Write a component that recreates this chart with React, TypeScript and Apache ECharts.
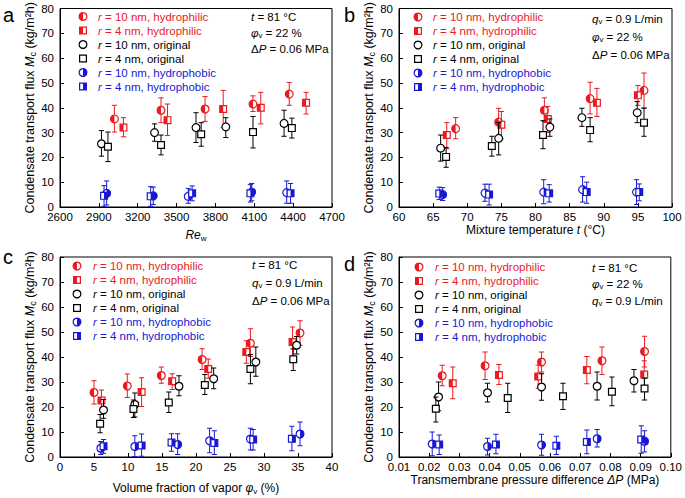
import React, { useEffect, useRef } from 'react';
import * as echarts from 'echarts';

const RED = '#ea1a1f';
const BLUE = '#1717d4';
const BLACK = '#000000';
const FONT = '"Liberation Sans", Arial, sans-serif';

// Each point: [x, y, lowerErr, upperErr]
// Panel a — Re_w
const RE_OFFSET = 2600;
const aPhil10 = [[3020, 35.5, 30.2, 41], [3380, 39, 34, 44], [3720, 39.5, 34.5, 44.5], [4090, 41.5, 38.5, 44.8], [4370, 45.5, 41, 50.2]];
const aPhil4 = [[3090, 32, 28.3, 36], [3430, 35, 28.8, 41.5], [3860, 39.5, 32, 47], [4150, 40, 33.5, 46.2], [4500, 42, 37.5, 46.2]];
const aOrig10 = [[2920, 25.5, 20.5, 30.8], [3330, 30, 26.5, 33.5], [3650, 32, 26, 38], [3880, 32.3, 28, 36], [4330, 33.7, 28.5, 39]];
const aOrig4 = [[2970, 24.3, 18.3, 30.2], [3380, 25, 21, 29], [3690, 29.3, 24.5, 34], [4090, 30.2, 23.8, 36.5], [4390, 31.8, 27.8, 35.8]];
const aPhob10 = [[2960, 5.5, 0.8, 10.5], [3320, 4.5, 1, 8], [3590, 4.3, 1.5, 7.5], [4080, 6, 2.5, 9.5], [4350, 5.8, 1.5, 10.5]];
const aPhob4 = [[2940, 4.5, 0.3, 8.6], [3300, 4.3, 0.3, 8.2], [3620, 5.5, 2.5, 8.5], [4070, 5.5, 2, 9], [4380, 5.5, 1.5, 9.5]];

// Panel b — mixture temperature
const bPhil10 = [[68.3, 31.6, 27.5, 36], [74.6, 34.2, 28, 39.8], [81.3, 39, 34.5, 44], [88, 43.7, 37.5, 50.3], [95.9, 47, 40, 54]];
const bPhil4 = [[67, 29, 23.5, 34], [75, 33.2, 27.5, 38.5], [81.8, 35.5, 30, 40.5], [89, 42, 36.5, 47.8], [95, 45, 41, 49]];
const bOrig10 = [[66.1, 23.7, 18.5, 29], [74.6, 27.7, 21, 34], [82.1, 32.2, 28.5, 35.5], [86.8, 36, 32.5, 39.8], [94.9, 38, 34, 42.5]];
const bOrig4 = [[66.9, 20.2, 16, 24], [73.6, 24.6, 20.5, 28.5], [81.1, 29, 23.5, 34.8], [88, 31, 26.3, 36], [95.9, 34, 28.5, 39.8]];
const bPhob10 = [[66.4, 5, 2.6, 7.8], [72.6, 5.6, 2.3, 9.2], [81.2, 6, 1.3, 11], [86.9, 7, 2, 12.2], [94.8, 6, 1, 11]];
const bPhob4 = [[65.9, 5.4, 3, 8], [73.2, 5, 0.8, 9.2], [82, 5.5, 2, 9], [87.5, 6, 1.5, 10], [95.2, 6, 2.5, 9.3]];

// Panel c — volume fraction of vapor
const cPhil10 = [[5, 25.8, 21.2, 30.5], [9.9, 28.4, 23.8, 33.2], [14.9, 32.6, 29.5, 36], [20.9, 39, 35, 43.3], [28, 45.5, 40.2, 51.3], [35.3, 49.6, 44.7, 54.5]];
const cPhil4 = [[6.1, 22.6, 18.5, 26.8], [12, 26, 20.2, 31.7], [16.5, 30.3, 27, 33.3], [21.8, 35.2, 31.5, 39.2], [27.4, 42, 37.5, 46.5], [34.2, 46, 40, 52]];
const cOrig10 = [[6.4, 18.8, 15.5, 23], [11, 21, 16, 25.6], [17.5, 28.3, 24.5, 32.5], [22.6, 31.3, 27.3, 35.6], [28.8, 38, 32.3, 44], [34.8, 44.7, 41.2, 48.2]];
const cOrig4 = [[5.9, 13.3, 9.7, 17], [10.8, 19.2, 15.8, 22.8], [16, 21.8, 17.8, 26], [21.3, 28.8, 25, 33], [28, 35.2, 29.3, 41], [34.3, 39.1, 34.6, 43.2]];
const cPhob10 = [[6, 3.5, 1, 6.2], [11, 4.2, 0.2, 8.5], [17.3, 5, 1, 9.3], [22, 6.5, 1.7, 11.5], [28, 7.2, 2.8, 11.5], [35.3, 9.2, 4.5, 14]];
const cPhob4 = [[6.4, 4.3, 1.5, 7], [12, 4.6, 0.3, 9.2], [16.4, 5.8, 2.3, 9.3], [22.7, 5.6, 1, 10.5], [28.4, 7, 2.8, 11], [34.1, 7.3, 2.5, 12.3]];

// Panel d — transmembrane pressure difference
const dPhil10 = [[0.0243, 32.5, 28.5, 36.7], [0.0385, 36.5, 31, 42], [0.0572, 38, 34, 42], [0.0772, 38.5, 33, 44], [0.0913, 42.2, 36, 48.3]];
const dPhil4 = [[0.0278, 29.5, 23.3, 36], [0.0431, 32.8, 29, 37], [0.0561, 32.2, 27.5, 36.8], [0.0722, 34.8, 29.3, 40.2], [0.0912, 33, 27.5, 38.5]];
const dOrig10 = [[0.0231, 24, 18.5, 30], [0.0393, 25.7, 22, 29.5], [0.0572, 28, 22.7, 33.3], [0.0756, 28.3, 22.8, 34], [0.0878, 30.5, 26, 35]];
const dOrig4 = [[0.0222, 19.3, 14, 24], [0.046, 23.6, 17.8, 29.5], [0.0643, 24.3, 19, 29.5], [0.0805, 26.1, 20.5, 32], [0.0913, 27.4, 22.8, 31.5]];
const dPhob10 = [[0.021, 5.2, 0.5, 10], [0.0393, 4.2, 0.8, 7.5], [0.0572, 4.8, 0.7, 9.1], [0.0756, 7.3, 4, 11], [0.0913, 6.3, 2, 10.5]];
const dPhob4 = [[0.0233, 5, 1, 8.8], [0.0421, 5, 1.3, 9.1], [0.0621, 4.5, 1, 8.3], [0.0722, 6, 1.3, 10.8], [0.0902, 7, 1.5, 12.5]];

const LEGEND_LABELS = ['10 nm, hydrophilic', '4 nm, hydrophilic', '10 nm, original', '4 nm, original', '10 nm, hydrophobic', '4 nm, hydrophobic'];
const KINDS = ['cL', 'sL', 'cO', 'sO', 'cR', 'sR'];
const COLORS = [RED, RED, BLACK, BLACK, BLUE, BLUE];

const Y_TICKS = { min: 0, max: 80, interval: 10 };

const R = 3.9;
const H = 3.4;

function markerEls(kind: string, cx: number, cy: number, color: string): any[] {
  const out: any[] = [];
  if (kind[0] === 'c') {
    out.push({ type: 'circle', shape: { cx, cy, r: R }, style: { fill: '#fff' } });
    if (kind[1] === 'L') out.push({ type: 'sector', shape: { cx, cy, r0: 0, r: R, startAngle: Math.PI / 2, endAngle: Math.PI * 1.5, clockwise: true }, style: { fill: color } });
    if (kind[1] === 'R') out.push({ type: 'sector', shape: { cx, cy, r0: 0, r: R, startAngle: -Math.PI / 2, endAngle: Math.PI / 2, clockwise: true }, style: { fill: color } });
    out.push({ type: 'circle', shape: { cx, cy, r: R }, style: { fill: 'none', stroke: color, lineWidth: 1.2 } });
  } else {
    out.push({ type: 'rect', shape: { x: cx - H, y: cy - H, width: 2 * H, height: 2 * H }, style: { fill: '#fff' } });
    if (kind[1] === 'L') out.push({ type: 'rect', shape: { x: cx - H, y: cy - H, width: H, height: 2 * H }, style: { fill: color } });
    if (kind[1] === 'R') out.push({ type: 'rect', shape: { x: cx, y: cy - H, width: H, height: 2 * H }, style: { fill: color } });
    out.push({ type: 'rect', shape: { x: cx - H, y: cy - H, width: 2 * H, height: 2 * H }, style: { fill: 'none', stroke: color, lineWidth: 1.2 } });
  }
  return out;
}

const makeRender = (kind: string, color: string) => (params: any, api: any) => {
  const x = api.value(0), y = api.value(1), lo = api.value(2), hi = api.value(3);
  const p = api.coord([x, y]);
  const pl = api.coord([x, lo]);
  const ph = api.coord([x, hi]);
  const cap = 2.6;
  const ls = { stroke: color, lineWidth: 1 };
  return {
    type: 'group',
    children: [
      { type: 'line', shape: { x1: p[0], y1: ph[1], x2: p[0], y2: pl[1] }, style: ls },
      { type: 'line', shape: { x1: p[0] - cap, y1: ph[1], x2: p[0] + cap, y2: ph[1] }, style: ls },
      { type: 'line', shape: { x1: p[0] - cap, y1: pl[1], x2: p[0] + cap, y2: pl[1] }, style: ls },
      ...markerEls(kind, p[0], p[1], color),
    ],
  };
};

const nameRich = (size: number) => ({
  n: { fontSize: size, fontFamily: FONT, color: '#000' },
  i: { fontSize: size, fontFamily: FONT, fontStyle: 'italic', color: '#000' },
  s: { fontSize: Math.round(size * 0.68), fontFamily: FONT, color: '#000', padding: [6, 0, 0, 0] },
});

const textEl = (x: number, y: number, text: string, color: string, size: number, align = 'left') => ({
  type: 'text',
  x,
  y,
  style: {
    text,
    fill: color,
    fontSize: size,
    fontFamily: FONT,
    align,
    verticalAlign: 'middle',
    textAlign: align,
    textVerticalAlign: 'middle',
    rich: {
      n: { fontSize: size, fontFamily: FONT, fill: color, color },
      i: { fontSize: size, fontFamily: FONT, fontStyle: 'italic', fill: color, color },
      s: { fontSize: size * 0.68, fontFamily: FONT, fill: color, color, padding: [5, 0, 0, 0] },
    },
  },
});

function legendEls(mx: number, tx: number, y0: number, step: number): any[] {
  const els: any[] = [];
  for (let k = 0; k < 6; k++) {
    const y = y0 + k * step;
    els.push(...markerEls(KINDS[k], mx, y, COLORS[k]));
    els.push(textEl(tx, y, `{i|r}{n| = ${LEGEND_LABELS[k]}}`, COLORS[k], 11.5));
  }
  return els;
}

export default function App() {
  const ref = useRef<HTMLDivElement>(null);
  useEffect(() => {
    document.body.style.margin = '0';
    const chart = echarts.init(ref.current!, null, { renderer: 'svg' });

    const grids = [
      { left: 60, top: 7, width: 272, height: 200 },
      { left: 399, top: 7, width: 273, height: 200 },
      { left: 60, top: 257, width: 272, height: 200 },
      { left: 399, top: 257, width: 273, height: 200 },
    ].map((g) => ({ ...g, show: true, borderColor: '#000', borderWidth: 1, backgroundColor: 'transparent' }));

    const axisCommon = {
      type: 'value',
      axisLine: { show: true, lineStyle: { color: '#000', width: 1 } },
      axisTick: { show: true, inside: true, length: 4, lineStyle: { color: '#000' } },
      splitLine: { show: false },
      axisLabel: { color: '#000', fontSize: 11.5, fontFamily: FONT, margin: 4 },
      nameLocation: 'middle',
      nameTextStyle: { fontSize: 12, fontFamily: FONT, color: '#000', rich: nameRich(12) },
    };

    const xAxes = [
      { ...axisCommon, gridIndex: 0, min: 0, max: 2100, interval: 300, axisLabel: { ...axisCommon.axisLabel, formatter: (v: number) => String(v + RE_OFFSET) }, name: '{i|Re}{s|w}', nameGap: 21 },
      { ...axisCommon, gridIndex: 1, min: 60, max: 100, interval: 5, name: '{n|Mixture temperature }{i|t}{n| (°C)}', nameGap: 15 },
      { ...axisCommon, gridIndex: 2, min: 0, max: 40, interval: 5, name: '{n|Volume fraction of vapor }{i|φ}{s|v}{n| (%)}', nameGap: 24 },
      { ...axisCommon, gridIndex: 3, min: 0.01, max: 0.1, interval: 0.01, axisLabel: { ...axisCommon.axisLabel, formatter: (v: number) => v.toFixed(2) }, name: '{n|Transmembrane pressure difference }{i|ΔP}{n| (MPa)}', nameGap: 16 },
    ];

    const yName = '{n|Condensate transport flux }{i|M}{s|c}{n| (kg/m²h)}';
    const yAxes = [0, 1, 2, 3].map((i) => ({
      ...axisCommon,
      gridIndex: i,
      ...Y_TICKS,
      axisLabel: { ...axisCommon.axisLabel, margin: 6 },
      name: yName,
      nameGap: 22,
      nameTextStyle: { fontSize: 12.5, fontFamily: FONT, color: '#000', rich: nameRich(12.5) },
    }));

    const panelData = [
      [aPhil10, aPhil4, aOrig10, aOrig4, aPhob10, aPhob4].map((arr) => arr.map((d) => [d[0] - RE_OFFSET, d[1], d[2], d[3]])),
      [bPhil10, bPhil4, bOrig10, bOrig4, bPhob10, bPhob4],
      [cPhil10, cPhil4, cOrig10, cOrig4, cPhob10, cPhob4],
      [dPhil10, dPhil4, dOrig10, dOrig4, dPhob10, dPhob4],
    ];

    const series: any[] = [];
    panelData.forEach((groups, pi) => {
      groups.forEach((data, gi) => {
        series.push({
          type: 'custom',
          xAxisIndex: pi,
          yAxisIndex: pi,
          data,
          encode: { x: 0, y: 1 },
          renderItem: makeRender(KINDS[gi], COLORS[gi]),
          z: 2 + gi,
        });
      });
    });

    const graphics: any[] = [
      textEl(3, 15, 'a', '#000', 20),
      textEl(344, 15, 'b', '#000', 20),
      textEl(3, 257, 'c', '#000', 20),
      textEl(344, 264, 'd', '#000', 20),
      // annotations
      textEl(251, 17, '{i|t}{n| = 81 °C}', '#000', 11.5),
      textEl(251, 33, '{i|φ}{s|v}{n| = 22 %}', '#000', 11.5),
      textEl(251, 49, '{n|Δ}{i|P}{n| = 0.06 MPa}', '#000', 11.5),
      textEl(592, 19, '{i|q}{s|v}{n| = 0.9 L/min}', '#000', 11.5),
      textEl(592, 37, '{i|φ}{s|v}{n| = 22 %}', '#000', 11.5),
      textEl(592, 55, '{n|Δ}{i|P}{n| = 0.06 MPa}', '#000', 11.5),
      textEl(252, 265, '{i|t}{n| = 81 °C}', '#000', 11.5),
      textEl(252, 283, '{i|q}{s|v}{n| = 0.9 L/min}', '#000', 11.5),
      textEl(252, 301, '{n|Δ}{i|P}{n| = 0.06 MPa}', '#000', 11.5),
      textEl(592, 268, '{i|t}{n| = 81 °C}', '#000', 11.5),
      textEl(592, 284, '{i|φ}{s|v}{n| = 22 %}', '#000', 11.5),
      textEl(592, 301, '{i|q}{s|v}{n| = 0.9 L/min}', '#000', 11.5),
      ...legendEls(83, 98, 16.5, 14),
      ...legendEls(418, 433, 17, 14),
      ...legendEls(77, 93, 266, 14),
      ...legendEls(419, 435, 267, 14),
    ];

    chart.setOption({
      animation: false,
      backgroundColor: '#fff',
      grid: grids,
      xAxis: xAxes,
      yAxis: yAxes,
      series,
      graphic: { elements: graphics },
    });
    return () => chart.dispose();
  }, []);
  return <div ref={ref} style={{ width: 685, height: 498 }} />;
}
